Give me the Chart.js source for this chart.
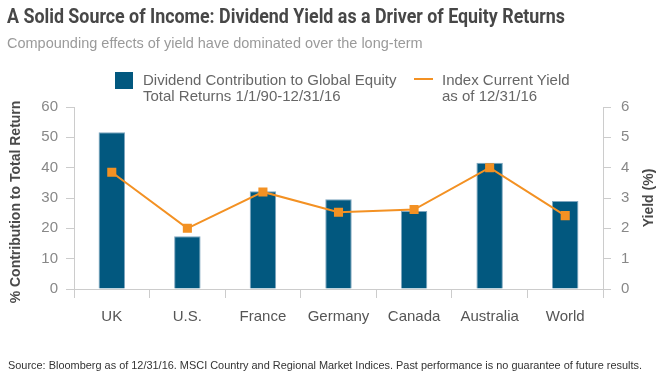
<!DOCTYPE html>
<html><head><meta charset="utf-8">
<script src="https://cdn.jsdelivr.net/npm/chart.js@4"></script>
<style>
html,body{margin:0;padding:0;background:#fff;}
#wrap{position:relative;width:662px;height:378px;overflow:hidden;font-family:"Liberation Sans",Arial,sans-serif;}
#wrap canvas{position:absolute;left:0;top:0;}
.t{position:absolute;white-space:nowrap;transform-origin:0 0;}
#title{left:7px;top:4px;font-family:"Roboto","Liberation Sans",sans-serif;font-weight:700;font-size:20px;line-height:24px;color:#474747;}
#sub{left:7px;top:34px;font-size:14.5px;line-height:18px;color:#9a9a9a;}
#foot{left:8px;top:358px;font-size:11px;line-height:14px;color:#333;}
.lg{position:absolute;font-size:15px;line-height:16px;color:#666;white-space:nowrap;}
#lgsq{position:absolute;left:115px;top:72px;width:18px;height:17px;background:#02587f;}
#lgln{position:absolute;left:414px;top:78px;width:19px;height:2px;background:#f39123;}
</style></head>
<body>
<div id="wrap">
<canvas id="c" width="662" height="378"></canvas>
<div class="t" id="title">A Solid Source of Income: Dividend Yield as a Driver of Equity Returns</div>
<div class="t" id="sub">Compounding effects of yield have dominated over the long-term</div>
<div id="lgsq"></div>
<div class="lg" id="lg1" style="left:143px;top:72px;">Dividend Contribution to Global Equity<br>Total Returns 1/1/90-12/31/16</div>
<div id="lgln"></div>
<div class="lg" id="lg2" style="left:442px;top:72px;">Index Current Yield<br>as of 12/31/16</div>
<div class="t" id="foot">Source: Bloomberg as of 12/31/16. MSCI Country and Regional Market Indices. Past performance is no guarantee of future results.</div>
</div>
<script>
const categories = ["UK", "U.S.", "France", "Germany", "Canada", "Australia", "World"];
const dividendContribution = [51.7, 17.4, 32.2, 29.6, 25.7, 41.6, 29.0];
const currentYield = [3.85, 2.0, 3.2, 2.53, 2.62, 4.0, 2.42];
const leftTicks = [0, 10, 20, 30, 40, 50, 60];
const rightTicks = [0, 1, 2, 3, 4, 5, 6];
const seriesNames = ["Dividend Contribution to Global Equity Total Returns 1/1/90-12/31/16", "Index Current Yield as of 12/31/16"];
const leftTitle = "% Contribution to Total Return";
const rightTitle = "Yield (%)";

function fit(id, w){
  const el = document.getElementById(id);
  const r = el.getBoundingClientRect().width;
  el.style.transform = 'scaleX(' + (w / r) + ')';
}
fit('title', 558);
fit('foot', 634);

const axisTitles = {
  id: 'axisTitles',
  afterDraw(chart){
    const ctx = chart.ctx, a = chart.chartArea;
    const cy = (a.top + a.bottom) / 2;
    ctx.save();
    ctx.fillStyle = '#4a4a4a';
    ctx.font = 'bold 14px "Liberation Sans", Arial, sans-serif';
    ctx.textAlign = 'center';
    ctx.textBaseline = 'middle';
    ctx.translate(16, cy + 4);
    ctx.rotate(-Math.PI/2);
    ctx.fillText(leftTitle, 0, 0);
    ctx.restore();
    ctx.save();
    ctx.fillStyle = '#4a4a4a';
    ctx.font = 'bold 14px "Liberation Sans", Arial, sans-serif';
    ctx.textAlign = 'center';
    ctx.textBaseline = 'middle';
    ctx.translate(649, cy);
    ctx.rotate(-Math.PI/2);
    ctx.fillText(rightTitle, 0, 0);
    ctx.restore();
  }
};

const gridCommon = {display:true, drawOnChartArea:false, color:'#cccccc', tickLength:8, lineWidth:1};
new Chart(document.getElementById('c'), {
  type: 'bar',
  data: {
    labels: categories,
    datasets: [
      {type:'line', label: seriesNames[1], data: currentYield, yAxisID:'y1', order:0,
       borderColor:'#f39123', backgroundColor:'#f39123', borderWidth:2,
       pointStyle:'rect', pointRadius:5, pointHoverRadius:5, tension:0},
      {type:'bar', label: seriesNames[0], data: dividendContribution, yAxisID:'y', order:1,
       backgroundColor:'#02587f', borderColor:'#7fa6bf', borderWidth:1,
       categoryPercentage:1.0, barPercentage:0.35}
    ]
  },
  options: {
    responsive:false, animation:false,
    layout:{padding:{top:107, bottom:49, left:0, right:0}},
    plugins:{legend:{display:false}, title:{display:false}, tooltip:{enabled:false}},
    scales:{
      x:{grid:Object.assign({}, gridCommon, {offset:true, tickLength:9}), border:{color:'#cccccc'},
         ticks:{color:'#555', font:{size:15, family:'"Liberation Sans", Arial, sans-serif'}, padding:10},
         afterFit(s){ s.height = 40; }},
      y:{position:'left', min:0, max:60, afterBuildTicks(s){ s.ticks = leftTicks.map(v=>({value:v})); },
         grid:gridCommon, border:{color:'#cccccc'},
         ticks:{color:'#888', font:{size:15, family:'"Liberation Sans", Arial, sans-serif'}, padding:8},
         afterFit(s){ s.width = 74; }},
      y1:{position:'right', min:0, max:6, afterBuildTicks(s){ s.ticks = rightTicks.map(v=>({value:v})); },
         grid:gridCommon, border:{color:'#cccccc'},
         ticks:{color:'#888', font:{size:15, family:'"Liberation Sans", Arial, sans-serif'}, padding:10},
         afterFit(s){ s.width = 59; }}
    }
  },
  plugins:[axisTitles]
});
</script>
</body></html>
